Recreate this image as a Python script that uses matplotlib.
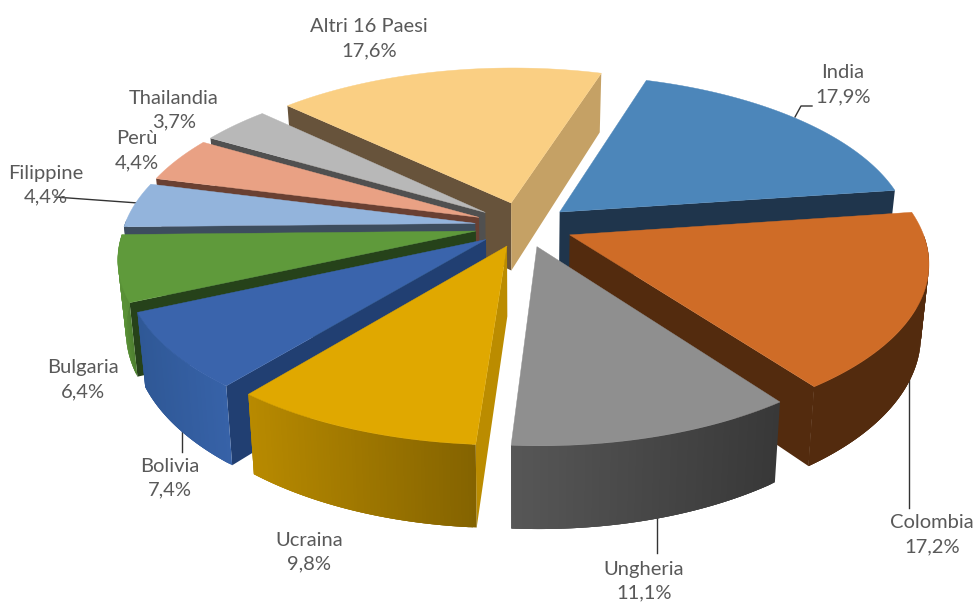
import numpy as np
import matplotlib
matplotlib.use("Agg")
import matplotlib.pyplot as plt
from matplotlib.patches import Polygon

# ---- data ----
countries = ["India", "Colombia", "Ungheria", "Ucraina", "Bolivia", "Bulgaria",
             "Filippine", "Perù", "Thailandia", "Altri 16 Paesi"]
shares = [17.9, 17.2, 11.1, 9.8, 7.4, 6.4, 4.4, 4.4, 3.7, 17.6]
share_text = ["17,9%", "17,2%", "11,1%", "9,8%", "7,4%", "6,4%", "4,4%", "4,4%", "3,7%", "17,6%"]

# ---- styles ----
top_colors = ["#4C86BA", "#CF6C27", "#8F8F8F", "#E0A800", "#3A64AC", "#5F9A3B",
              "#93B4DC", "#E9A184", "#B8B8B8", "#FACF83"]
start_wall = ["#1F354C", "#532B0E", "#3A3A3A", "#BB8C00", "#213F72", "#26421A",
              "#3D4D5E", "#6A4032", "#505050", "#67533B"]
end_wall = ["#1F354C", "#532B0E", "#555555", "#866400", "#213F72", "#26421A",
            "#3D4D5E", "#6A4032", "#505050", "#C5A165"]
side_left = ["#1F354C", "#532B0E", "#575757", "#B88A00", "#2F5896", "#5A9237",
             "#3D4D5E", "#6A4032", "#505050", "#C5A165"]
side_right = ["#1F354C", "#532B0E", "#383838", "#846300", "#3762A8", "#4E8030",
              "#3D4D5E", "#6A4032", "#505050", "#C5A165"]
label_xy = [(843, 85), (932, 535), (644, 581), (309, 552), (170, 478), (83, 380),
            (46, 185), (137, 151), (174, 110), (369, 39)]
leaders = [[(812, 106), (801, 106), (795, 117)],
           [(909, 370), (909, 508)],
           [(657, 500), (657, 553)],
           [(182, 420), (182, 452)],
           [(55, 197), (138, 203)]]
explode = [0.135, 0.14, 0.13, 0.13, 0.135, 0.14, 0.14, 0.14, 0.14, 0.15]

# ---- geometry ----
CX, CY = 524.0, 226.0
A, B = 351.0, 162.0
K = 0.152
H0 = 69.0
SHRINK = 0.98
START = 17.5


def top(X, Y):
    w = 1 + K * Y
    return CX + A * X / w, CY - B * Y / w


def bottom(X, Y):
    x, y = top(X, Y)
    w = 1 + K * Y
    return CX + (x - CX) * SHRINK, y + H0 / w


def mix(c1, c2, t):
    a = np.array(matplotlib.colors.to_rgb(c1))
    b = np.array(matplotlib.colors.to_rgb(c2))
    return tuple(a + (b - a) * t)


def wall_faces_viewer(ax0, ay0, rx, ry, mx, my):
    ex, ey = rx - ax0, ry - ay0
    down = ex * 1.0
    inner = ex * (my - ay0) - ey * (mx - ax0)
    return down * inner < 0


fig = plt.figure(figsize=(9.76, 6.03), dpi=100)
ax = fig.add_axes([0, 0, 1, 1])
ax.set_xlim(0, 976)
ax.set_ylim(603, 0)
ax.axis("off")

for line in leaders:
    xs, ys = zip(*line)
    ax.plot(xs, ys, color="#333333", lw=1.0, zorder=0)

edges = START + np.cumsum([0] + shares) * 3.6
mids = (edges[:-1] + edges[1:]) / 2
order = np.argsort(-np.cos(np.radians(mids)))

z = 1
for i in order:
    t0, t1 = edges[i], edges[i + 1]
    mid = np.radians(mids[i])
    ox, oy = explode[i] * np.sin(mid), explode[i] * np.cos(mid)
    th = np.radians(np.linspace(t0, t1, max(int((t1 - t0) * 2), 2) + 1))
    X = ox + np.sin(th)
    Y = oy + np.cos(th)
    tx, ty = top(X, Y)
    bx, by = bottom(X, Y)
    ax_t, ay_t = top(ox, oy)
    ax_b, ay_b = bottom(ox, oy)
    mx, my = tx[len(tx) // 2], ty[len(ty) // 2]

    for r, col in ((0, start_wall[i]), (-1, end_wall[i])):
        if wall_faces_viewer(ax_t, ay_t, tx[r], ty[r], mx, my):
            ax.add_patch(Polygon([(ax_t, ay_t), (tx[r], ty[r]), (bx[r], by[r]), (ax_b, ay_b)],
                                 fc=col, ec="none", zorder=z))
            z += 1

    # outer wall, only where it faces the viewer; strips overlap so no seams show
    xmin, xmax = tx.min(), tx.max()
    n = len(th)
    for k in range(n - 1):
        if np.cos(th[k]) > 0 and np.cos(th[k + 1]) > 0:
            continue
        e = min(k + 3, n - 1)
        f = ((tx[k] + tx[k + 1]) / 2 - xmin) / max(xmax - xmin, 1)
        col = mix(side_left[i], side_right[i], f)
        idx = list(range(k, e + 1))
        pts = [(tx[j], ty[j]) for j in idx] + [(bx[j], by[j]) for j in reversed(idx)]
        ax.add_patch(Polygon(pts, fc=col, ec="none", zorder=z))
        z += 1
    ax.add_patch(Polygon(list(zip([ax_t, *tx], [ay_t, *ty])),
                         fc=top_colors[i], ec=top_colors[i], lw=0.3, zorder=z))
    z += 1

plt.rcParams["font.family"] = ["Lato", "DejaVu Sans"]
for name, txt, (lx, ly) in zip(countries, share_text, label_xy):
    ax.text(lx, ly, f"{name}\n{txt}", ha="center", va="center", fontsize=14.5,
            color="#595959", linespacing=1.5, zorder=z + 1)

fig.savefig("out.png", dpi=100, facecolor="white")
